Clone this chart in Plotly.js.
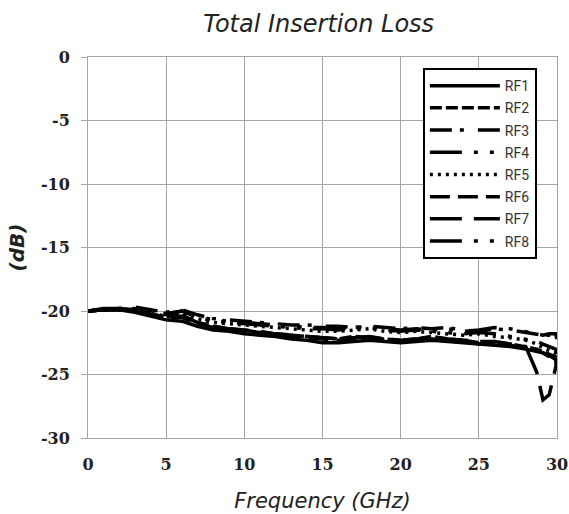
<!DOCTYPE html>
<html>
<head>
<meta charset="utf-8">
<script src="https://cdn.plot.ly/plotly-3.0.1.min.js"></script>
<style>html,body{margin:0;padding:0;background:#fff;}#chart{width:569px;height:514px;}</style>
</head>
<body>
<div id="chart"></div>
<script>
const freq = [0,1,2,3,4,5,6,7,8,9,10,11,12,13,14,15,16,17,18,19,20,21,22,23,24,25,26,27,28,28.7,29.1,29.5,29.9,30];
const names = ["RF1","RF2","RF3","RF4","RF5","RF6","RF7","RF8"];
const rf1 = [-20.0,-19.9,-19.9,-20.1,-20.4,-20.7,-20.8,-21.2,-21.5,-21.6,-21.8,-21.9,-22.0,-22.2,-22.3,-22.5,-22.5,-22.4,-22.3,-22.4,-22.5,-22.4,-22.3,-22.4,-22.5,-22.6,-22.7,-22.8,-23.0,-23.2,-23.3,-23.5,-23.8,-24.2];
const rf2 = [-20.0,-19.9,-19.8,-19.9,-20.2,-20.5,-20.3,-20.9,-21.2,-21.4,-21.5,-21.7,-21.8,-21.9,-22.0,-22.1,-22.2,-22.0,-22.1,-22.2,-22.3,-22.2,-22.0,-22.2,-22.3,-22.5,-22.4,-22.6,-22.8,-23.0,-23.2,-23.4,-23.6,-24.6];
const rf3 = [-20.0,-19.9,-19.8,-19.7,-19.9,-20.1,-19.9,-20.3,-20.6,-20.7,-20.8,-20.9,-21.0,-21.1,-21.1,-21.2,-21.2,-21.3,-21.2,-21.3,-21.4,-21.3,-21.4,-21.3,-21.5,-21.6,-21.4,-21.5,-21.7,-21.8,-21.9,-21.9,-22.0,-21.9];
const rf4 = [-20.0,-19.9,-19.9,-19.8,-20.1,-20.3,-20.0,-20.5,-20.8,-20.9,-21.0,-21.1,-21.2,-21.3,-21.4,-21.4,-21.5,-21.4,-21.3,-21.5,-21.6,-21.5,-21.6,-21.7,-21.8,-21.7,-21.8,-22.0,-22.2,-22.4,-22.6,-22.8,-23.0,-23.4];
const rf5 = [-20.0,-19.9,-19.9,-20.0,-20.2,-20.4,-20.2,-20.6,-20.9,-21.0,-21.1,-21.2,-21.3,-21.4,-21.5,-21.6,-21.6,-21.5,-21.4,-21.6,-21.7,-21.6,-21.7,-21.8,-21.9,-21.8,-22.0,-22.1,-22.3,-22.6,-22.9,-23.1,-23.3,-23.6];
const rf6 = [-20.0,-19.9,-19.9,-20.0,-20.3,-20.6,-20.5,-21.0,-21.3,-21.5,-21.6,-21.7,-21.9,-22.0,-22.1,-22.2,-22.3,-22.2,-22.1,-22.3,-22.4,-22.3,-22.2,-22.3,-22.4,-22.6,-22.5,-22.7,-22.9,-23.1,-23.3,-23.6,-23.9,-24.4];
const rf7 = [-20.0,-19.9,-19.9,-20.0,-20.3,-20.5,-20.4,-20.9,-21.2,-21.4,-21.5,-21.6,-21.8,-21.9,-22.0,-22.1,-22.2,-22.1,-22.0,-22.2,-22.3,-22.2,-22.1,-22.2,-22.3,-22.4,-22.4,-22.6,-22.8,-24.8,-27.0,-26.6,-24.6,-24.0];
const rf8 = [-20.0,-19.8,-19.8,-19.9,-20.0,-20.2,-20.0,-20.4,-20.7,-20.8,-20.9,-21.0,-21.1,-21.2,-21.3,-21.3,-21.4,-21.3,-21.2,-21.4,-21.5,-21.4,-21.5,-21.4,-21.6,-21.5,-21.3,-21.4,-21.6,-21.8,-21.9,-21.8,-21.8,-22.2];
const series = [rf1,rf2,rf3,rf4,rf5,rf6,rf7,rf8];
const dashes = ["solid","12px,4px","22px,8px,4px,14px","32px,12px,4px,12px,4px,12px","3px,5px","20px,8px","32px,12px","32px,12px,4px,12px,4px,12px"];
const xTicks = [0,5,10,15,20,25,30];
const yTicks = [0,-5,-10,-15,-20,-25,-30];

const traces = series.map((s,i)=>({
  x: freq, y: s, name: names[i], type: 'scatter', mode: 'lines',
  legendgroup: names[i],
  line: {color: '#000', width: 3.5, dash: dashes[i]}
}));

const tickFont = {family: 'DejaVu Serif', size: 16, color: '#222', weight: 'bold'};
const layout = {
  width: 569, height: 514,
  margin: {l: 88, r: 12, t: 57, b: 76},
  paper_bgcolor: '#fff', plot_bgcolor: '#fff',
  title: {text: 'Total Insertion Loss', font: {family: 'DejaVu Sans', size: 24, color: '#222', style: 'italic'}, x: 0.56, xanchor: 'center', y: 0.955, yanchor: 'middle'},
  xaxis: {range: [0,30], tickvals: xTicks, ticktext: xTicks.map(String), showgrid: true, gridcolor: '#a2a6ad', gridwidth: 1,
    showline: true, linecolor: '#a2a6ad', linewidth: 1, mirror: true, zeroline: false, ticks: '', tickfont: tickFont, ticklabelstandoff: 12,
    title: {text: 'Frequency (GHz)', font: {family: 'DejaVu Sans', size: 21, color: '#222', style: 'italic'}, standoff: 20}},
  yaxis: {range: [-30,0], tickvals: yTicks, ticktext: yTicks.map(String), showgrid: true, gridcolor: '#a2a6ad', gridwidth: 1,
    showline: true, linecolor: '#a2a6ad', linewidth: 1, mirror: true, zeroline: false, ticks: 'outside', ticklen: 6, tickcolor: '#a2a6ad',
    tickfont: tickFont, ticklabelstandoff: 8,
    title: {text: '(dB)', font: {family: 'DejaVu Sans', size: 20, color: '#222', style: 'italic', weight: 'bold'}, standoff: 10}},
  showlegend: true,
  legend: {x: 0.714, y: 0.971, xanchor: 'left', yanchor: 'top', bgcolor: '#fff', bordercolor: '#000', borderwidth: 2,
    font: {family: 'Roboto', size: 14, color: '#333'}, itemwidth: 70, tracegroupgap: 1}
};
Plotly.newPlot('chart', traces, layout, {displayModeBar: false, staticPlot: true});
</script>
</body>
</html>
